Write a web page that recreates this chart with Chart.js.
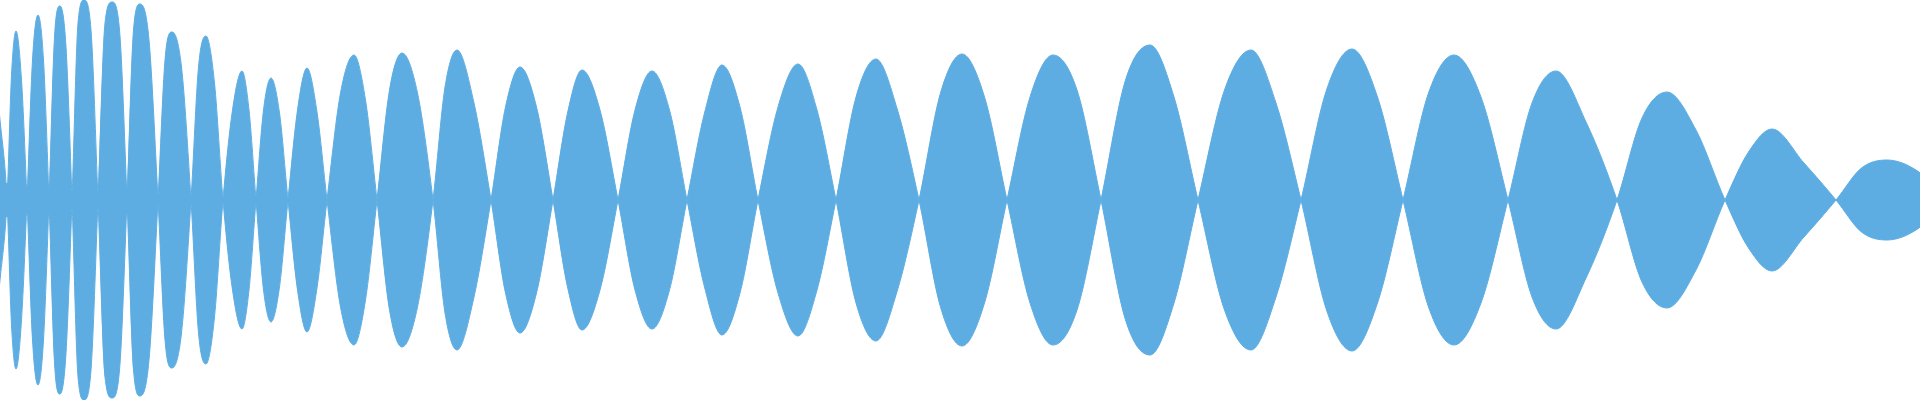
<!DOCTYPE html>
<html>
<head>
<meta charset="utf-8">
<script src="https://cdn.jsdelivr.net/npm/chart.js@4"></script>
<style>
  html, body { margin: 0; padding: 0; background: #ffffff; }
  #wrap { width: 1920px; height: 400px; position: relative; }
</style>
</head>
<body>
<div id="wrap"><canvas id="wave"></canvas></div>
<script>
// zero crossings of the envelope (x) and the small width left at each of them
const nodeX   = [-18, 7, 27, 49, 72, 98, 127, 158, 191, 223, 256, 288, 327, 377, 433, 491, 553, 618, 687, 758, 836, 919, 1007, 1101, 1198, 1301, 1403, 1508, 1617, 1725, 1836, 1948];
const nodeAmp = [15, 17, 12, 12, 10, 8, 12, 6, 5, 3, 5, 2, 1, 0, 0, 0, 0, 0, 0, 0, 0, 0, 0, 0, 0, 0, 0, 0, 0, 0, 0, 0];

// top of each lobe
const peakX   = [-6, 16, 38, 60, 84, 112, 140, 172, 206, 242, 271, 307, 354, 402, 457, 520, 582, 652, 722, 798, 876, 962, 1053, 1150, 1251, 1352, 1454, 1556, 1667, 1772, 1887];
const peakAmp = [125, 169, 185, 194, 200, 198, 196, 168, 164, 129, 122, 132, 145, 147, 150, 133, 130, 129, 135, 136, 141, 146, 145, 155, 150, 151, 145, 129, 108, 71, 40];

// height halfway between node and peak (rising side) and peak and next node (falling side)
const riseAmp = [90, 125, 140, 163, 177, 177, 170, 140, 133, 90, 90, 90, 107, 110, 113, 93, 87, 90, 87, 93, 103, 107, 103, 120, 110, 110, 107, 97, 82, 48, 32];
const fallAmp = [75, 120, 140, 153, 170, 170, 160, 133, 117, 90, 87, 88, 100, 107, 97, 93, 90, 90, 93, 90, 90, 103, 110, 103, 97, 103, 103, 77, 70, 37, 29];

const waveColor = "#5DADE2";

// the signal swings to the other side after each node, the mirror copy fills the rest
function buildWave(sign) {
    const pts = [];
    for (let i = 0; i < peakX.length; i++) {
        const s = (i % 2 === 0 ? 1 : -1) * sign;
        pts.push({ x: nodeX[i], y: 0 });
        pts.push({ x: (nodeX[i] + peakX[i]) / 2, y: s * riseAmp[i] });
        pts.push({ x: peakX[i], y: s * peakAmp[i] });
        pts.push({ x: (peakX[i] + nodeX[i + 1]) / 2, y: s * fallAmp[i] });
    }
    pts.push({ x: nodeX[nodeX.length - 1], y: 0 });
    return pts;
}

function buildFloor(sign) {
    return nodeX.map((x, i) => ({ x: x, y: sign * nodeAmp[i] }));
}

const lobeStyle = {
    borderColor: waveColor,
    backgroundColor: waveColor,
    borderWidth: 1,
    fill: "origin",
    cubicInterpolationMode: "monotone",
    pointRadius: 0
};

const ctx = document.getElementById("wave").getContext("2d");
new Chart(ctx, {
    type: "line",
    data: {
        datasets: [
            Object.assign({ data: buildWave(1) }, lobeStyle),
            Object.assign({ data: buildWave(-1) }, lobeStyle),
            { data: buildFloor(1), borderWidth: 0, backgroundColor: waveColor, fill: "+1", tension: 0, pointRadius: 0 },
            { data: buildFloor(-1), borderWidth: 0, backgroundColor: waveColor, fill: false, tension: 0, pointRadius: 0 }
        ]
    },
    options: {
        responsive: true,
        maintainAspectRatio: false,
        animation: false,
        layout: { padding: 0 },
        plugins: {
            legend: { display: false },
            tooltip: { enabled: false }
        },
        scales: {
            x: { type: "linear", min: 0, max: 1920, display: false },
            y: { min: -200, max: 200, display: false }
        }
    }
});
</script>
</body>
</html>
